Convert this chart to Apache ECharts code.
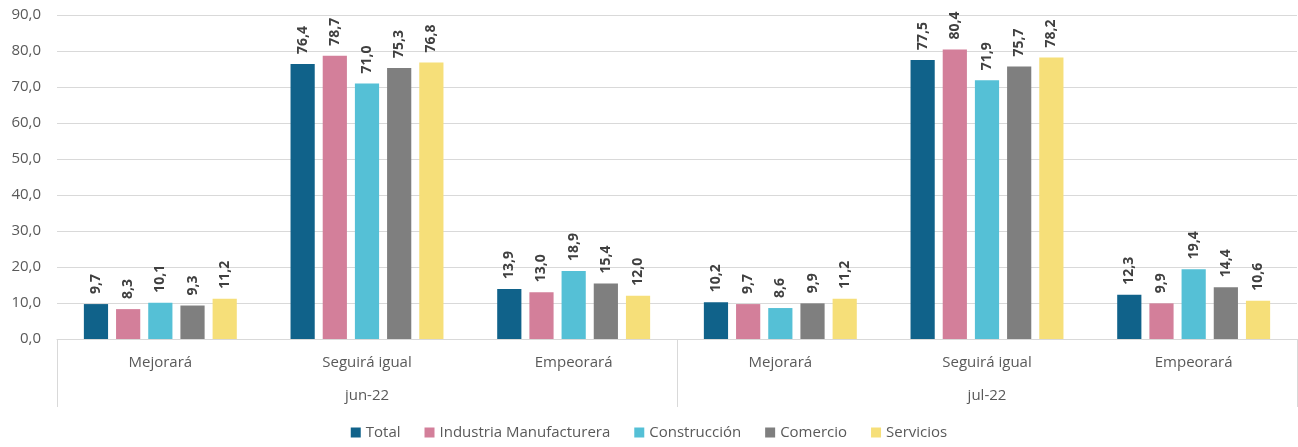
<!DOCTYPE html>
<html>
<head>
<meta charset="utf-8">
<script src="https://cdn.jsdelivr.net/npm/echarts@6/dist/echarts.min.js"></script>
<style>
  html, body { margin: 0; padding: 0; background: #fff; }
  #chart { width: 1298px; height: 447px; }
</style>
</head>
<body>
<div id="chart"></div>
<script>
// datos
const categorias = ['Mejorará', 'Seguirá igual', 'Empeorará', 'Mejorará', 'Seguirá igual', 'Empeorará'];
const periodos = ['jun-22', 'jul-22'];

const total = [9.7, 76.4, 13.9, 10.2, 77.5, 12.3];
const industria = [8.3, 78.7, 13.0, 9.7, 80.4, 9.9];
const construccion = [10.1, 71.0, 18.9, 8.6, 71.9, 19.4];
const comercio = [9.3, 75.3, 15.4, 9.9, 75.7, 14.4];
const servicios = [11.2, 76.8, 12.0, 11.2, 78.2, 10.6];

const yTicks = [0, 10, 20, 30, 40, 50, 60, 70, 80, 90];

const FONT = '"Open Sans", "Noto Sans", sans-serif';

function coma(v) {
    return Number(v).toFixed(1).replace('.', ',');
}

function serie(nombre, datos, color) {
    return {
        name: nombre,
        type: 'bar',
        data: datos,
        barGap: '33%',
        barCategoryGap: '26%',
        itemStyle: { color: color },
        label: {
            show: true,
            position: 'top',
            rotate: 90,
            align: 'left',
            verticalAlign: 'middle',
            distance: 10,
            color: '#404040',
            fontFamily: FONT,
            fontWeight: 'bold',
            fontSize: 14,
            formatter: p => coma(p.value)
        }
    };
}

const chart = echarts.init(document.getElementById('chart'));

chart.setOption({
    animation: false,
    textStyle: { fontFamily: FONT },
    grid: { left: 57, right: 1, top: 15, bottom: 108 },
    legend: {
        bottom: 2,
        left: 'center',
        icon: 'rect',
        itemWidth: 10,
        itemHeight: 10,
        itemGap: 24,
        textStyle: { color: '#595959', fontSize: 15, fontFamily: FONT }
    },
    xAxis: [
        {
            type: 'category',
            data: categorias,
            position: 'bottom',
            axisLine: { show: true, lineStyle: { color: '#d9d9d9' } },
            axisTick: { show: false },
            axisLabel: { color: '#595959', fontSize: 15, margin: 16, fontFamily: FONT }
        },
        {
            type: 'category',
            data: periodos,
            position: 'bottom',
            axisLine: { show: false },
            axisTick: { show: true, length: 68, lineStyle: { color: '#d9d9d9' } },
            axisLabel: { color: '#595959', fontSize: 15, margin: 49, fontFamily: FONT }
        }
    ],
    yAxis: {
        type: 'value',
        min: yTicks[0],
        max: yTicks[yTicks.length - 1],
        interval: 10,
        axisLine: { show: false },
        axisTick: { show: false },
        splitLine: { lineStyle: { color: '#d9d9d9' } },
        axisLabel: {
            color: '#595959',
            fontSize: 15,
            margin: 16,
            fontFamily: FONT,
            formatter: v => coma(v)
        }
    },
    series: [
        serie('Total', total, '#10628a'),
        serie('Industria Manufacturera', industria, '#d37f9a'),
        serie('Construcción', construccion, '#55c0d6'),
        serie('Comercio', comercio, '#7f7f7f'),
        serie('Servicios', servicios, '#f6df79')
    ]
});
</script>
</body>
</html>
